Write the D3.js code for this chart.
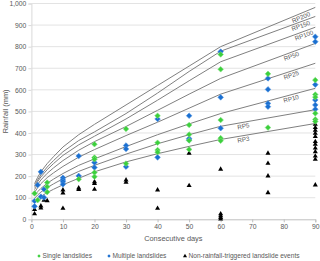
<!DOCTYPE html>
<html lang="en">
<head>
<meta charset="utf-8">
<title>Rainfall thresholds</title>
<script src="https://cdn.jsdelivr.net/npm/d3@7"></script>
<style>
  body { margin: 0; background: #fff; }
  svg text { font-family: "Liberation Sans", Arial, sans-serif; fill: #595959; }
</style>
</head>
<body>
<svg id="chart" width="320" height="261"></svg>
<script>
// durations at which the return-period curves are drawn
var days = [1, 2, 3, 5, 7, 10, 15, 20, 30, 40, 50, 60, 90];
var rpNames = ["RP200", "RP150", "RP100", "RP50", "RP25", "RP10", "RP5", "RP3"];
var rp200 = [165, 195, 220, 258, 290, 335, 392, 440, 530, 620, 710, 800, 982];
var rp150 = [155, 183, 206, 242, 272, 313, 365, 405, 490, 585, 685, 779, 940];
var rp100 = [148, 175, 196, 230, 258, 296, 345, 385, 465, 552, 642, 730, 890];
var rp50  = [138, 162, 182, 213, 238, 272, 320, 360, 430, 505, 580, 653, 815];
var rp25  = [125, 147, 165, 193, 215, 245, 288, 323, 388, 450, 515, 580, 723];
var rp10  = [110, 128, 143, 167, 186, 212, 250, 280, 337, 392, 442, 490, 607];
var rp5   = [97, 113, 126, 147, 164, 188, 222, 250, 302, 350, 392, 431, 508];
var rp3   = [82, 95, 106, 124, 139, 160, 190, 220, 266, 304, 338, 370, 444];

// landslide events: [consecutive days, rainfall mm]
var singleSlides = [[1,120],[2,89],[5,170],[5,151],[5,126],[15,186],
  [20,348],[20,286],[20,278],[20,217],[20,197],[30,419],[30,258],
  [40,480],[40,355],[40,321],[40,311],[50,437],[50,393],[50,365],[50,324],
  [60,764],[60,695],[60,460],[60,376],[60,364],[75,674],[75,425],
  [90,645],[90,578],[90,566],[90,491],[90,463],[90,453]];
var multipleSlides = [[1,85],[1,60],[2,159],[3,220],[3,105],[4,139],[4,101],
  [10,192],[10,182],[10,174],[10,162],[15,293],[15,201],[20,263],[20,240],
  [30,342],[30,326],[30,244],[40,465],[40,287],[50,480],[50,374],[50,367],
  [60,777],[60,565],[60,422],[75,653],[75,602],[75,537],[75,522],
  [90,846],[90,823],[90,624],[90,553],[90,530],[90,510]];
var nonRainfall = [[1,45],[1,25],[3,62],[3,52],[4,88],[5,86],[10,136],[10,122],[10,51],
  [15,145],[15,138],[20,174],[20,166],[20,139],[30,182],[30,172],[40,136],[40,51],
  [50,306],[50,156],[60,232],[60,25],[60,16],[60,8],[60,1],
  [75,306],[75,259],[75,201],[75,123],
  [90,440],[90,425],[90,412],[90,398],[90,383],[90,360],[90,348],[90,330],
  [90,313],[90,293],[90,278],[90,159]];

var xTicks = [0, 10, 20, 30, 40, 50, 60, 70, 80, 90];
var yTicks = [0, 100, 200, 300, 400, 500, 600, 700, 800, 900, 1000];
var legendNames = ["Single landslides", "Multiple landslides", "Non-rainfall-triggered landslide events"];

var rpSeries = [rp200, rp150, rp100, rp50, rp25, rp10, rp5, rp3];
// where along each curve the label sits (in days)
var rpLabelDay = [85, 85, 86, 82, 82, 82, 67, 67];

var svg = d3.select("#chart"),
    margin = { top: 3.5, right: 4.7, bottom: 41.7, left: 31.4 },
    width = +svg.attr("width") - margin.left - margin.right,
    height = +svg.attr("height") - margin.top - margin.bottom,
    g = svg.append("g").attr("transform", "translate(" + margin.left + "," + margin.top + ")");

var x = d3.scaleLinear().domain([0, 90]).range([0, width]);
var y = d3.scaleLinear().domain([0, 1000]).range([height, 0]);

// gridlines
g.append("g")
  .selectAll("line")
  .data(yTicks.slice(1))
  .enter().append("line")
  .attr("x1", 0).attr("x2", width)
  .attr("y1", function (d) { return y(d); })
  .attr("y2", function (d) { return y(d); })
  .attr("stroke", "#e3e3e3")
  .attr("stroke-width", 1);

// y axis
var yAxis = g.append("g")
  .call(d3.axisLeft(y).tickValues(yTicks).tickSize(3).tickPadding(2));
yAxis.select(".domain").attr("stroke", "#d9d9d9");
yAxis.selectAll(".tick line").attr("stroke", "#d9d9d9");
yAxis.selectAll("text").attr("font-size", 6.8).attr("fill", "#595959");

// x axis
var xAxis = g.append("g")
  .attr("transform", "translate(0," + height + ")")
  .call(d3.axisBottom(x).tickValues(xTicks).tickSize(3).tickPadding(2));
xAxis.select(".domain").attr("stroke", "#bfbfbf");
xAxis.selectAll(".tick line").attr("stroke", "#bfbfbf");
xAxis.selectAll("text").attr("font-size", 6.8).attr("fill", "#595959");

svg.append("text")
  .attr("x", margin.left + width / 2)
  .attr("y", 241)
  .attr("text-anchor", "middle")
  .attr("font-size", 7.4)
  .text("Consecutive days");

svg.append("text")
  .attr("transform", "translate(8," + (margin.top + height / 2) + ") rotate(-90)")
  .attr("text-anchor", "middle")
  .attr("font-size", 7.4)
  .text("Rainfall (mm)");

// return period curves
var line = d3.line()
  .x(function (d, i) { return x(days[i]); })
  .y(function (d) { return y(d); });

g.append("g")
  .selectAll("path")
  .data(rpSeries)
  .enter().append("path")
  .attr("d", line)
  .attr("fill", "none")
  .attr("stroke", "#808080")
  .attr("stroke-width", 1);

// labels along the curves
rpSeries.forEach(function (s, k) {
  var dd = rpLabelDay[k];
  var v = d3.scaleLinear().domain(days).range(s)(dd);
  var v2 = d3.scaleLinear().domain(days).range(s)(dd + 3);
  var px = x(dd), py = y(v);
  var ang = Math.atan2(y(v2) - py, x(dd + 3) - px) * 180 / Math.PI;
  g.append("text")
    .attr("transform", "translate(" + px + "," + py + ") rotate(" + ang + ")")
    .attr("y", 6)
    .attr("text-anchor", "middle")
    .attr("font-size", 6.3)
    .attr("fill", "#7f7f7f")
    .text(rpNames[k]);
});

var triangle = d3.symbol().type(d3.symbolTriangle).size(11);
var diamond = d3.symbol().type(d3.symbolDiamond2).size(20);

g.append("g")
  .selectAll("path")
  .data(nonRainfall)
  .enter().append("path")
  .attr("d", triangle)
  .attr("transform", function (d) { return "translate(" + x(d[0]) + "," + y(d[1]) + ")"; })
  .attr("fill", "#000");

g.append("g")
  .selectAll("path")
  .data(multipleSlides)
  .enter().append("path")
  .attr("d", diamond)
  .attr("transform", function (d) { return "translate(" + x(d[0]) + "," + y(d[1]) + ")"; })
  .attr("fill", "#1a6fd0")
  .attr("stroke", "#4a90e0")
  .attr("stroke-width", 0.6);

g.append("g")
  .selectAll("path")
  .data(singleSlides)
  .enter().append("path")
  .attr("d", diamond)
  .attr("transform", function (d) { return "translate(" + x(d[0]) + "," + y(d[1]) + ")"; })
  .attr("fill", "#3ccf3c")
  .attr("stroke", "#7ee07e")
  .attr("stroke-width", 0.6);

// legend
var legendX = [39, 109, 185];
var legendSym = [
  d3.symbol().type(d3.symbolDiamond2).size(7),
  d3.symbol().type(d3.symbolDiamond2).size(7),
  d3.symbol().type(d3.symbolTriangle).size(7)
];
var legendColor = ["#3ccf3c", "#1a6fd0", "#000"];
var legend = svg.append("g")
  .selectAll("g")
  .data(legendNames)
  .enter().append("g")
  .attr("transform", function (d, i) { return "translate(" + legendX[i] + ",256)"; });

legend.append("path")
  .attr("d", function (d, i) { return legendSym[i](); })
  .attr("fill", function (d, i) { return legendColor[i]; });

legend.append("text")
  .attr("x", 3.5)
  .attr("dy", "0.35em")
  .attr("font-size", 6.6)
  .text(function (d) { return d; });
</script>
</body>
</html>
